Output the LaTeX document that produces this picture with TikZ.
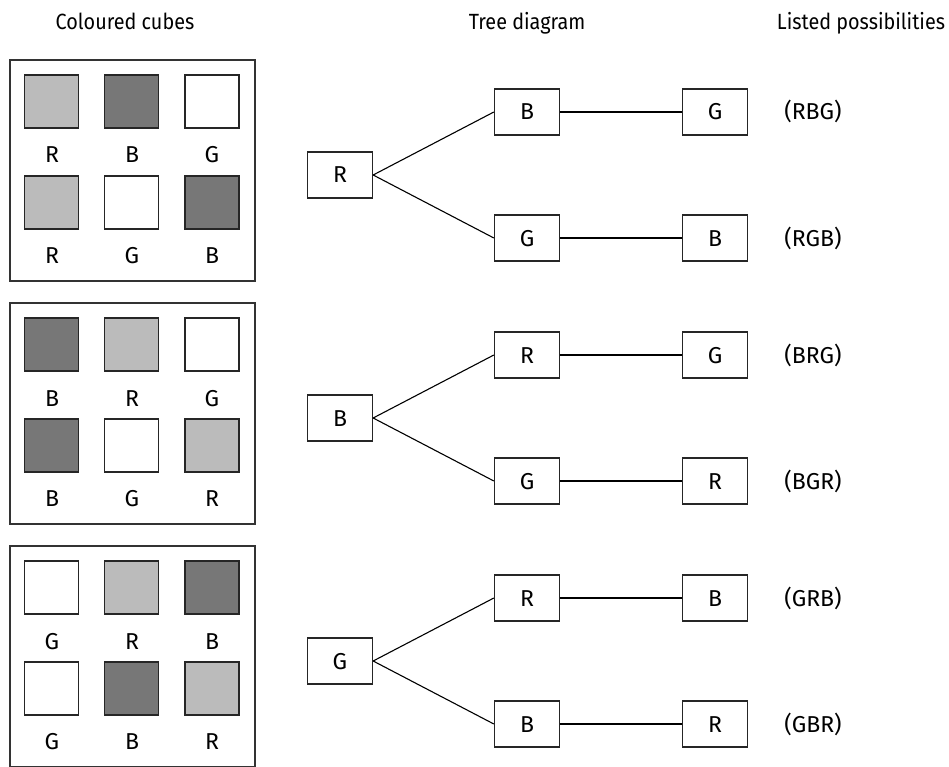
\documentclass[tikz,border=0pt]{standalone}
\usepackage{fontspec}
\setmainfont{Fira Sans}
\newfontfamily\headfont[FakeStretch=0.9]{Fira Sans}
\begin{document}
\begin{tikzpicture}[x=1pt,y=-1pt,
  every node/.style={font=\fontsize{23}{27}\selectfont},
  head/.style={font=\headfont\fontsize{22}{26}\selectfont,anchor=base},
  txt/.style={anchor=base,inner sep=0pt},
  panel/.style={draw=black!80,line width=1.3pt,fill=none},
  cube/.style={draw=black!85,line width=1.5pt,minimum width=54pt,minimum height=53pt,inner sep=0pt},
  cR/.style={cube,fill=cubeR},
  cB/.style={cube,fill=cubeB},
  cG/.style={cube,fill=white},
  tbox/.style={draw=black!85,line width=1.3pt,minimum width=65pt,minimum height=46pt,inner sep=0pt},
  link/.style={line width=1.1pt,black}
]
\definecolor{cubeR}{RGB}{187,187,187}
\definecolor{cubeB}{RGB}{119,119,119}
\useasboundingbox (0,0) rectangle (949,767);

\node[head] (h1) at (125,30) {Coloured cubes};
\node[head] (h2) at (527,30) {Tree diagram};
\node[head] (h3) at (861,30) {Listed possibilities};

% panels
\foreach \p/\oy/\a/\b/\c/\d/\e/\f in {1/60/R/B/G/R/G/B, 2/303/B/R/G/B/G/R, 3/546/G/R/B/G/B/R}{
  \node[panel,minimum width=245pt,minimum height=221pt,inner sep=0pt] (panel\p) at (132.5,\oy+110.5) {};
  \node[c\a] (s\p a) at (51.5,\oy+41.5) {};
  \node[c\b] (s\p b) at (131.5,\oy+41.5) {};
  \node[c\c] (s\p c) at (212,\oy+41.5) {};
  \node[c\d] (s\p d) at (51.5,\oy+142.5) {};
  \node[c\e] (s\p e) at (131.5,\oy+142.5) {};
  \node[c\f] (s\p f) at (212,\oy+142.5) {};
  \node[txt] (l\p a) at (52,\oy+103) {\a};
  \node[txt] (l\p b) at (132,\oy+103) {\b};
  \node[txt] (l\p c) at (212,\oy+103) {\c};
  \node[txt] (l\p d) at (52,\oy+203) {\d};
  \node[txt] (l\p e) at (132,\oy+203) {\e};
  \node[txt] (l\p f) at (212,\oy+203) {\f};
}

% trees
\foreach \p/\oy/\r/\u/\v/\w/\z in {1/0/R/B/G/G/B, 2/243/B/R/G/G/R, 3/486/G/R/B/B/R}{
  \node[tbox] (r\p) at (340,\oy+175) {};
  \node[tbox] (u\p) at (527,\oy+112) {};
  \node[tbox] (d\p) at (527,\oy+238) {};
  \node[tbox] (uu\p) at (715,\oy+112) {};
  \node[tbox] (dd\p) at (715,\oy+238) {};
  \node[txt] at ([yshift=-8pt]r\p.center) {\r};
  \node[txt] at ([yshift=-8pt]u\p.center) {\u};
  \node[txt] at ([yshift=-8pt]d\p.center) {\v};
  \node[txt] at ([yshift=-8pt]uu\p.center) {\w};
  \node[txt] at ([yshift=-8pt]dd\p.center) {\z};
  \node[txt] (tu\p) at (813,\oy+120) {(\r\u\w)};
  \node[txt] (td\p) at (813,\oy+246) {(\r\v\z)};
  \draw[link] (r\p.east) -- (u\p.west);
  \draw[link] (r\p.east) -- (d\p.west);
  \draw[link] (u\p.east) -- (uu\p.west);
  \draw[link] (d\p.east) -- (dd\p.west);
}
\end{tikzpicture}
\end{document}
